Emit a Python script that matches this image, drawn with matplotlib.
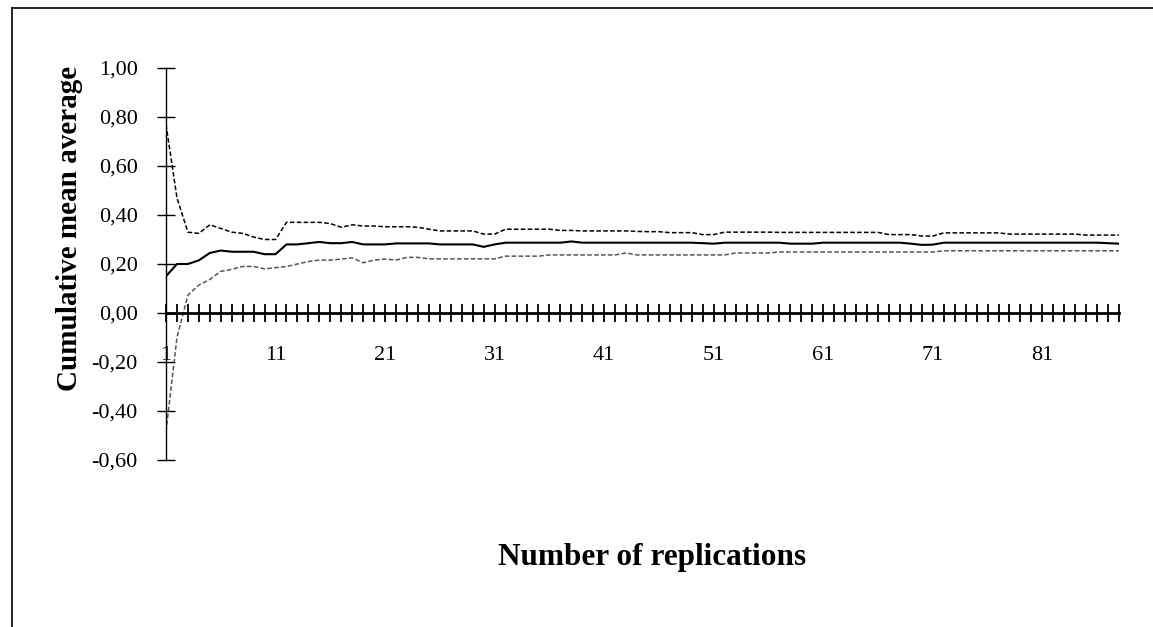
import numpy as np
import matplotlib
matplotlib.use("Agg")
import matplotlib.pyplot as plt
from matplotlib.lines import Line2D

# number of replications 1..88
reps = np.arange(1, 89)

# upper confidence bound (dashed black)
upper = [0.77, 0.47, 0.33, 0.325, 0.36, 0.345, 0.33, 0.325, 0.31, 0.30,
         0.30, 0.37, 0.37, 0.37, 0.37, 0.365, 0.35, 0.36, 0.355, 0.355,
         0.352, 0.352, 0.352, 0.35, 0.342, 0.335, 0.335, 0.335, 0.335, 0.322,
         0.322, 0.342, 0.342, 0.342, 0.342, 0.342, 0.337, 0.337, 0.335, 0.335,
         0.335, 0.335, 0.335, 0.333, 0.332, 0.332, 0.328, 0.328, 0.328, 0.32,
         0.32, 0.33, 0.33, 0.33, 0.33, 0.33, 0.329, 0.329, 0.329, 0.329,
         0.329, 0.329, 0.329, 0.329, 0.329, 0.329, 0.32, 0.32, 0.32, 0.314,
         0.314, 0.327, 0.327, 0.327, 0.327, 0.327, 0.327, 0.322, 0.322, 0.322,
         0.322, 0.322, 0.322, 0.322, 0.318, 0.318, 0.318, 0.318]

# cumulative mean (solid)
mean = [0.15, 0.20, 0.20, 0.215, 0.245, 0.255, 0.25, 0.25, 0.25, 0.24,
        0.24, 0.28, 0.28, 0.285, 0.29, 0.285, 0.285, 0.29, 0.28, 0.28,
        0.28, 0.284, 0.284, 0.284, 0.284, 0.28, 0.28, 0.28, 0.28, 0.27,
        0.28, 0.287, 0.287, 0.287, 0.287, 0.287, 0.287, 0.292, 0.287, 0.287,
        0.287, 0.287, 0.287, 0.287, 0.287, 0.287, 0.287, 0.287, 0.287, 0.285,
        0.283, 0.287, 0.287, 0.287, 0.287, 0.287, 0.287, 0.283, 0.283, 0.283,
        0.287, 0.287, 0.287, 0.287, 0.287, 0.287, 0.287, 0.287, 0.283, 0.278,
        0.279, 0.287, 0.287, 0.287, 0.287, 0.287, 0.287, 0.287, 0.287, 0.287,
        0.287, 0.287, 0.287, 0.287, 0.287, 0.287, 0.285, 0.283]

# lower confidence bound (dashed grey)
lower = [-0.485, -0.10, 0.073, 0.114, 0.137, 0.17, 0.178, 0.19, 0.19, 0.18,
         0.185, 0.19, 0.20, 0.21, 0.216, 0.216, 0.22, 0.225, 0.205, 0.216,
         0.22, 0.216, 0.227, 0.227, 0.221, 0.221, 0.221, 0.221, 0.221, 0.221,
         0.221, 0.232, 0.232, 0.232, 0.232, 0.237, 0.237, 0.237, 0.237, 0.237,
         0.237, 0.237, 0.245, 0.237, 0.237, 0.237, 0.237, 0.237, 0.237, 0.237,
         0.237, 0.237, 0.245, 0.245, 0.245, 0.245, 0.249, 0.249, 0.249, 0.249,
         0.249, 0.249, 0.249, 0.249, 0.249, 0.249, 0.249, 0.249, 0.249, 0.249,
         0.249, 0.254, 0.254, 0.254, 0.254, 0.254, 0.254, 0.254, 0.254, 0.254,
         0.254, 0.254, 0.254, 0.254, 0.254, 0.254, 0.254, 0.254]

y_ticks = [-0.6, -0.4, -0.2, 0.0, 0.2, 0.4, 0.6, 0.8, 1.0]
y_labels = ['-0,60', '-0,40', '-0,20', '0,00', '0,20', '0,40', '0,60', '0,80', '1,00']
x_labels = [str(r) if (r - 1) % 10 == 0 else '' for r in reps]

plt.rcParams['font.family'] = ['Liberation Serif', 'DejaVu Serif']

W, H = 1153, 627
fig = plt.figure(figsize=(W / 100, H / 100), dpi=100)
ax = fig.add_axes([166 / W, 1 - 460 / H, (1119 - 166) / W, (460 - 68) / H])

ax.plot(reps, upper, color='black', lw=1.1, dashes=(3, 1.5))
ax.plot(reps, mean, color='black', lw=1.5)
ax.plot(reps, lower, color='#555555', lw=1.1, dashes=(3, 1.5))

ax.set_xlim(1, 88)
ax.set_ylim(-0.6, 1.0)

for s in ('top', 'right'):
    ax.spines[s].set_visible(False)
ax.spines['bottom'].set_position(('data', 0))
ax.spines['bottom'].set_linewidth(2.0)
ax.spines['left'].set_linewidth(1.0)

ax.set_yticks(y_ticks)
ax.set_yticklabels(y_labels)
ax.set_xticks(reps)
ax.set_xticklabels(x_labels)
ax.tick_params(axis='y', direction='inout', length=13, width=1.0, pad=14, labelsize=16)
ax.tick_params(axis='x', direction='inout', length=13, width=1.3, pad=17, labelsize=16)

fig.text(70 / W, 1 - 228 / H, 'Cumulative mean average', rotation=90,
         ha='center', va='center', fontsize=21, fontweight='bold')
fig.text(652 / W, 1 - 557 / H, 'Number of replications',
         ha='center', va='center', fontsize=22.5, fontweight='bold')

# outer frame (top and left only)
fx, fy = 11.5 / W, 1 - 8 / H
fig.add_artist(Line2D([fx, 1], [fy, fy], transform=fig.transFigure, color='black', lw=1.2))
fig.add_artist(Line2D([fx, fx], [0, fy], transform=fig.transFigure, color='black', lw=1.2))

fig.savefig('out.png', dpi=100, facecolor='white')
